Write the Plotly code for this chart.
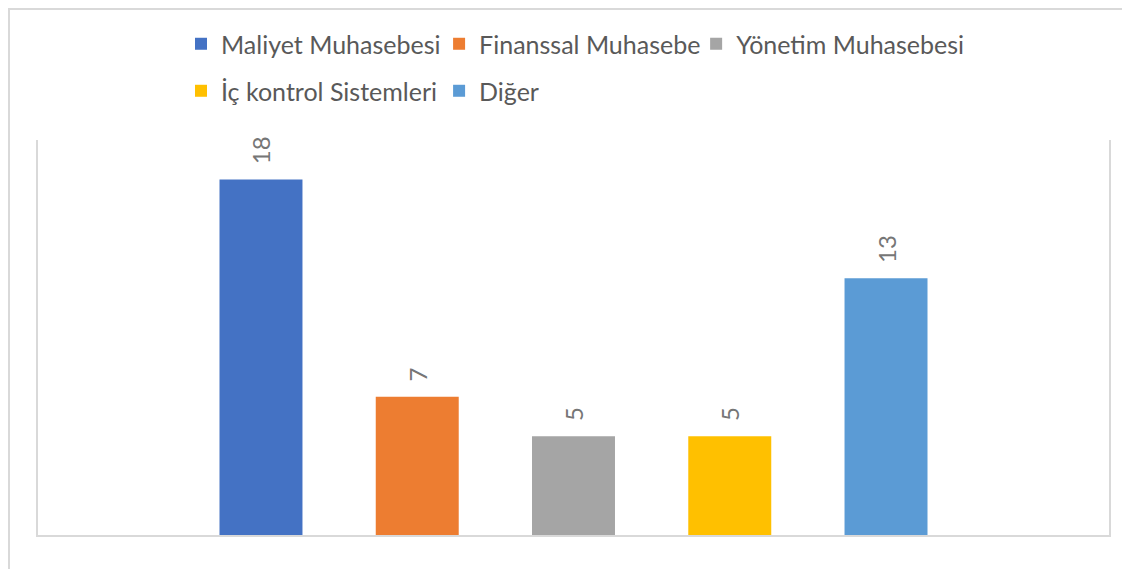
import plotly.graph_objects as go

series_names = ["Maliyet Muhasebesi", "Finanssal Muhasebe", "Yönetim Muhasebesi",
                "İç kontrol Sistemleri", "Diğer"]
series_values = [18, 7, 5, 5, 13]
series_colors = ["#4472C4", "#ED7D31", "#A5A5A5", "#FFC000", "#5B9BD5"]
category = [""]

FONT = "Lato, Calibri, Carlito, sans-serif"
TXT = "#595959"
LBL = "#767676"

# legend grid: 3 columns x 2 rows (paper coordinates of each legend box)
legend_cols = [0.1335, 0.3745, 0.6145]
legend_rows = [1.243, 1.124]

fig = go.Figure()
legend_layout = {}
for i, (name, val, col) in enumerate(zip(series_names, series_values, series_colors)):
    key = "legend" if i == 0 else f"legend{i + 1}"
    fig.add_trace(go.Bar(
        x=category, y=[val], name=name,
        marker=dict(color=col, line=dict(width=0)),
        text=[val], texttemplate="\u00a0\u00a0%{y}",
        textposition="outside", textangle=-90,
        textfont=dict(family=FONT, size=24, color=LBL),
        constraintext="none", cliponaxis=False,
        legend=key,
        hoverinfo="skip",
    ))
    legend_layout[key] = dict(
        orientation="h", x=legend_cols[i % 3], xanchor="left",
        y=legend_rows[i // 3], yanchor="middle",
        font=dict(family=FONT, size=25, color=TXT),
        bgcolor="rgba(0,0,0,0)",
    )

fig.update_layout(
    width=1122, height=561,
    margin=dict(l=30, r=21, t=132, b=34),
    paper_bgcolor="white", plot_bgcolor="white",
    barmode="group", bargap=0.2705, bargroupgap=0.469,
    font=dict(family=FONT, color=TXT),
    showlegend=True,
    **legend_layout,
    xaxis=dict(showticklabels=False, ticks="", showgrid=False, zeroline=False,
               showline=True, linecolor="#D9D9D9", linewidth=2),
    yaxis=dict(range=[0, 20], showticklabels=False, ticks="", showgrid=False,
               zeroline=False, showline=True, mirror=True,
               linecolor="#D9D9D9", linewidth=1.5),
    shapes=[dict(type="rect", xref="paper", yref="paper",
                 x0=-0.0271, x1=1.05, y0=-0.3, y1=1.3316,
                 line=dict(color="#D9D9D9", width=2), fillcolor="rgba(0,0,0,0)",
                 layer="below")],
)

fig.write_html("out.html")
